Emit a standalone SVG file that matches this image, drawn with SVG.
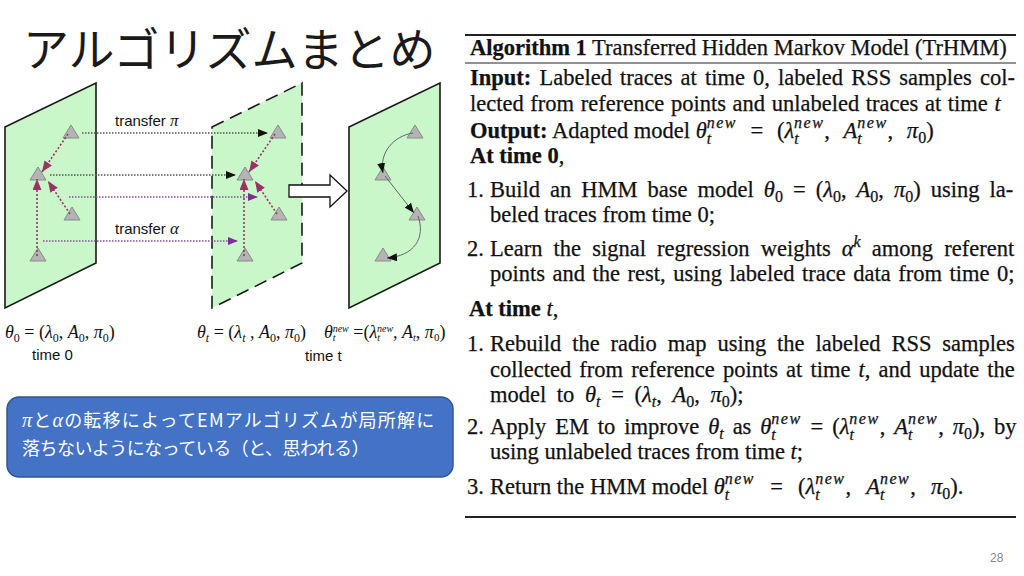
<svg xmlns="http://www.w3.org/2000/svg" width="1024" height="576" viewBox="0 0 1024 576">
<style>
.panel{fill:#c9f7c9;stroke:#1a1a1a;stroke-width:1.6}
.dash{stroke-dasharray:13 7}
.tri{fill:#b4b4b4;stroke:#8a8a8a;stroke-width:1}
.alg{font-family:"Liberation Serif","Times New Roman",serif;font-size:22.5px;fill:#111;stroke:#111;stroke-width:0.25}
.b{font-weight:bold}
.i{font-style:italic}
.s{font-size:16px}
.nw{letter-spacing:1.5px}
.ms{font-size:12px}
.lbl{font-family:"Liberation Sans",Arial,sans-serif;font-size:15px;fill:#111}
.math{font-family:"Liberation Serif","Times New Roman",serif;font-size:18px;fill:#111}
.dotg{stroke:#555;stroke-width:1.3;stroke-dasharray:1.5 1.5;fill:none}
.dotp{stroke:#8a4aa0;stroke-width:1.3;stroke-dasharray:1.5 1.5;fill:none}
.dotm{stroke:#993366;stroke-width:1.6;stroke-dasharray:2 2;fill:none}
.thin{stroke:#666;stroke-width:1;fill:none}
.rule{stroke:#222}
.jp{font-family:"Noto Sans CJK JP",sans-serif}
</style>
<defs>
<marker id="ab" markerWidth="10" markerHeight="8" refX="10" refY="4" orient="auto" markerUnits="userSpaceOnUse"><path d="M0,0 L10,4 L0,8 z" fill="#111"/></marker>
<marker id="ap" markerWidth="10" markerHeight="8" refX="10" refY="4" orient="auto" markerUnits="userSpaceOnUse"><path d="M0,0 L10,4 L0,8 z" fill="#7b2e91"/></marker>
<marker id="am" markerWidth="11" markerHeight="9" refX="11" refY="4.5" orient="auto" markerUnits="userSpaceOnUse"><path d="M0,0 L11,4.5 L0,9 z" fill="#993366"/></marker>
</defs>
<rect width="1024" height="576" fill="#fff"/>

<g id="title"><text class="jp" x="23" y="66" font-size="46" fill="#1a1a1a">アルゴリズムまとめ</text></g>

<g id="panel-time0"><polygon class="panel" points="5,127 96,83 96,263 5,308"/></g>
<g id="panel-timet"><polygon class="panel dash" points="212,127 302,83 302,263 212,308"/></g>
<g id="panel-new"><polygon class="panel" points="349,127 440,83 440,263 349,308"/></g>

<g id="p0-t1"><polygon class="tri" points="71,125 63,138 79,138"/></g>
<g id="p0-t2"><polygon class="tri" points="38,167 30,180 46,180"/></g>
<g id="p0-t3"><polygon class="tri" points="72,207 64,220 80,220"/></g>
<g id="p0-t4"><polygon class="tri" points="38,248 30,261 46,261"/></g>
<g id="p1-t1"><polygon class="tri" points="278,125 270,138 286,138"/></g>
<g id="p1-t2"><polygon class="tri" points="245,167 237,180 253,180"/></g>
<g id="p1-t3"><polygon class="tri" points="279,207 271,220 287,220"/></g>
<g id="p1-t4"><polygon class="tri" points="245,248 237,261 253,261"/></g>
<g id="p2-t1"><polygon class="tri" points="415,125 407,138 423,138"/></g>
<g id="p2-t2"><polygon class="tri" points="383,167 375,180 391,180"/></g>
<g id="p2-t3"><polygon class="tri" points="417,207 409,220 425,220"/></g>
<g id="p2-t4"><polygon class="tri" points="383,248 375,261 391,261"/></g>

<g id="connectors">
<line class="dotg" x1="82" y1="133" x2="268" y2="133" marker-end="url(#ab)"/>
<line class="dotg" x1="50" y1="175" x2="236" y2="175" marker-end="url(#ab)"/>
<line class="dotp" x1="69" y1="197" x2="258" y2="197" marker-end="url(#ap)"/>
<line class="dotp" x1="43" y1="241" x2="238" y2="241" marker-end="url(#ap)"/>
<line class="dotm" x1="68" y1="134" x2="42" y2="172" marker-end="url(#am)"/>
<line class="dotm" x1="70" y1="214" x2="48" y2="181" marker-end="url(#am)"/>
<line class="dotm" x1="37" y1="256" x2="37" y2="179" marker-end="url(#am)"/>
<line class="dotm" x1="275" y1="134" x2="249" y2="172" marker-end="url(#am)"/>
<line class="dotm" x1="277" y1="214" x2="255" y2="181" marker-end="url(#am)"/>
<line class="dotm" x1="244" y1="256" x2="244" y2="179" marker-end="url(#am)"/>
<path class="thin" d="M413,133 C394,136 379,152 383,173" marker-end="url(#ab)"/>
<path class="thin" d="M385,176 L414,213" marker-end="url(#ab)"/>
<path class="thin" d="M418,216 C426,238 414,256 387,258" marker-end="url(#ab)"/>
</g>

<g id="big-arrow"><polygon points="289,185 330,185 330,175 347,191 330,207 330,197 289,197" fill="#fff" stroke="#111" stroke-width="1.3"/></g>

<g id="labels">
<text class="lbl" x="115" y="126">transfer <tspan class="i" font-family="Liberation Serif,serif" font-size="17">π</tspan></text>
<text class="lbl" x="115" y="234">transfer <tspan class="i" font-family="Liberation Serif,serif" font-size="17">α</tspan></text>
<text class="math" x="5" y="338"><tspan class="i">θ</tspan><tspan class="ms" dy="4">0</tspan><tspan dy="-4"> = (</tspan><tspan class="i">λ</tspan><tspan class="ms" dy="4">0</tspan><tspan dy="-4">, </tspan><tspan class="i">A</tspan><tspan class="ms" dy="4">0</tspan><tspan dy="-4">, </tspan><tspan class="i">π</tspan><tspan class="ms" dy="4">0</tspan><tspan dy="-4">)</tspan></text>
<text class="math" x="197" y="338"><tspan class="i">θ</tspan><tspan class="ms i" dy="4">t</tspan><tspan dy="-4"> = (</tspan><tspan class="i">λ</tspan><tspan class="ms i" dy="4">t</tspan><tspan dy="-4"> , </tspan><tspan class="i">A</tspan><tspan class="ms" dy="4">0</tspan><tspan dy="-4">, </tspan><tspan class="i">π</tspan><tspan class="ms" dy="4">0</tspan><tspan dy="-4">)</tspan></text>
<text class="math" x="324" y="338" font-size="17"><tspan class="i">θ</tspan><tspan class="i" font-size="10" dy="3">t</tspan><tspan class="i" font-size="10" dx="-3" dy="-9">new</tspan><tspan dy="6"> =(</tspan><tspan class="i">λ</tspan><tspan class="i" font-size="10" dy="3">t</tspan><tspan class="i" font-size="10" dx="-3" dy="-9">new</tspan><tspan dy="6">, </tspan><tspan class="i">A</tspan><tspan class="i" font-size="10" dy="3">t</tspan><tspan dy="-3">, </tspan><tspan class="i">π</tspan><tspan font-size="11" dy="3">0</tspan><tspan dy="-3">)</tspan></text>
<text class="lbl" x="32" y="360">time 0</text>
<text class="lbl" x="305" y="361">time t</text>
</g>

<g id="note">
<rect x="7" y="397" width="446" height="80" rx="12" fill="#4472c4" stroke="#2f5597" stroke-width="1.5"/>
<text class="jp" x="22" y="427" font-size="18" fill="#fff" letter-spacing="1.2"><tspan font-family="Liberation Serif,serif" font-style="italic" font-size="20">π</tspan>と<tspan font-family="Liberation Serif,serif" font-style="italic" font-size="20">α</tspan>の転移によってEMアルゴリズムが局所解に</text>
<text class="jp" x="22" y="455" font-size="18" fill="#fff" letter-spacing="-0.5">落ちないようになっている（と、思われる）</text>
</g>

<g id="algorithm">
<line class="rule" x1="465" y1="35" x2="1016" y2="35" stroke-width="2"/>
<line class="rule" x1="465" y1="63" x2="1016" y2="63" stroke-width="1"/>
<line class="rule" x1="465" y1="517" x2="1016" y2="517" stroke-width="2"/>
<text class="alg" x="470" y="55"><tspan class="b">Algorithm 1</tspan> Transferred Hidden Markov Model (TrHMM)</text>
<text class="alg" x="470" y="85" word-spacing="2.5"><tspan class="b">Input:</tspan> Labeled traces at time 0, labeled RSS samples col-</text>
<text class="alg" x="470" y="111" word-spacing="1">lected from reference points and unlabeled traces at time <tspan class="i">t</tspan></text>
<text class="alg" x="470" y="138"><tspan class="b">Output:</tspan> Adapted model <tspan word-spacing="8"><tspan class="i">θ</tspan><tspan class="i s" dy="6">t</tspan><tspan class="i s nw" dx="-4.5" dy="-16">new</tspan><tspan dy="10"> = (</tspan><tspan class="i">λ</tspan><tspan class="i s" dy="6">t</tspan><tspan class="i s nw" dx="-4.5" dy="-16">new</tspan><tspan dy="10">, </tspan><tspan class="i">A</tspan><tspan class="i s" dy="6">t</tspan><tspan class="i s nw" dx="-4.5" dy="-16">new</tspan><tspan dy="10">, </tspan><tspan class="i">π</tspan><tspan class="s" dy="5">0</tspan><tspan dy="-5">)</tspan></tspan></text>
<text class="alg" x="470" y="163"><tspan class="b">At time 0</tspan>,</text>

<text class="alg" x="467" y="197">1.</text>
<text class="alg" x="490" y="197" word-spacing="4.4">Build an HMM base model <tspan class="i">θ</tspan><tspan class="s" dy="5">0</tspan><tspan dy="-5"> = (</tspan><tspan class="i">λ</tspan><tspan class="s" dy="5">0</tspan><tspan dy="-5">, </tspan><tspan class="i">A</tspan><tspan class="s" dy="5">0</tspan><tspan dy="-5">, </tspan><tspan class="i">π</tspan><tspan class="s" dy="5">0</tspan><tspan dy="-5">) using la-</tspan></text>
<text class="alg" x="490" y="222">beled traces from time 0;</text>
<text class="alg" x="467" y="256">2.</text>
<text class="alg" x="490" y="256" word-spacing="5.5">Learn the signal regression weights <tspan class="i">α</tspan><tspan class="i s" dy="-9">k</tspan><tspan dy="9"> among referent</tspan></text>
<text class="alg" x="490" y="281" word-spacing="1.9">points and the rest, using labeled trace data from time 0;</text>

<text class="alg" x="469" y="316"><tspan class="b">At time</tspan> <tspan class="i">t</tspan>,</text>
<text class="alg" x="467" y="351">1.</text>
<text class="alg" x="490" y="351" word-spacing="5.3">Rebuild the radio map using the labeled RSS samples</text>
<text class="alg" x="490" y="377" word-spacing="2.5">collected from reference points at time <tspan class="i">t</tspan>, and update the</text>
<text class="alg" x="490" y="402" word-spacing="5">model to <tspan class="i">θ</tspan><tspan class="i s" dy="5">t</tspan><tspan dy="-5"> = (</tspan><tspan class="i">λ</tspan><tspan class="i s" dy="5">t</tspan><tspan dy="-5">, </tspan><tspan class="i">A</tspan><tspan class="s" dy="5">0</tspan><tspan dy="-5">, </tspan><tspan class="i">π</tspan><tspan class="s" dy="5">0</tspan><tspan dy="-5">);</tspan></text>
<text class="alg" x="467" y="434">2.</text>
<text class="alg" x="490" y="434" word-spacing="3.3">Apply EM to improve <tspan class="i">θ</tspan><tspan class="i s" dy="5">t</tspan><tspan dy="-5"> as </tspan><tspan class="i">θ</tspan><tspan class="i s" dy="6">t</tspan><tspan class="i s nw" dx="-4.5" dy="-16">new</tspan><tspan dy="10"> = (</tspan><tspan class="i">λ</tspan><tspan class="i s" dy="6">t</tspan><tspan class="i s nw" dx="-4.5" dy="-16">new</tspan><tspan dy="10">, </tspan><tspan class="i">A</tspan><tspan class="i s" dy="6">t</tspan><tspan class="i s nw" dx="-4.5" dy="-16">new</tspan><tspan dy="10">, </tspan><tspan class="i">π</tspan><tspan class="s" dy="5">0</tspan><tspan dy="-5">), by</tspan></text>
<text class="alg" x="490" y="459">using unlabeled traces from time <tspan class="i">t</tspan>;</text>
<text class="alg" x="467" y="494">3.</text>
<text class="alg" x="490" y="494">Return the HMM model <tspan word-spacing="9.5"><tspan class="i">θ</tspan><tspan class="i s" dy="6">t</tspan><tspan class="i s nw" dx="-4.5" dy="-16">new</tspan><tspan dy="10"> = (</tspan><tspan class="i">λ</tspan><tspan class="i s" dy="6">t</tspan><tspan class="i s nw" dx="-4.5" dy="-16">new</tspan><tspan dy="10">, </tspan><tspan class="i">A</tspan><tspan class="i s" dy="6">t</tspan><tspan class="i s nw" dx="-4.5" dy="-16">new</tspan><tspan dy="10">, </tspan><tspan class="i">π</tspan><tspan class="s" dy="5">0</tspan><tspan dy="-5">).</tspan></tspan></text>
</g>

<g id="page-number"><text x="990" y="562" font-family="Liberation Sans,Arial,sans-serif" font-size="12" fill="#8a8a8a">28</text></g>
</svg>
